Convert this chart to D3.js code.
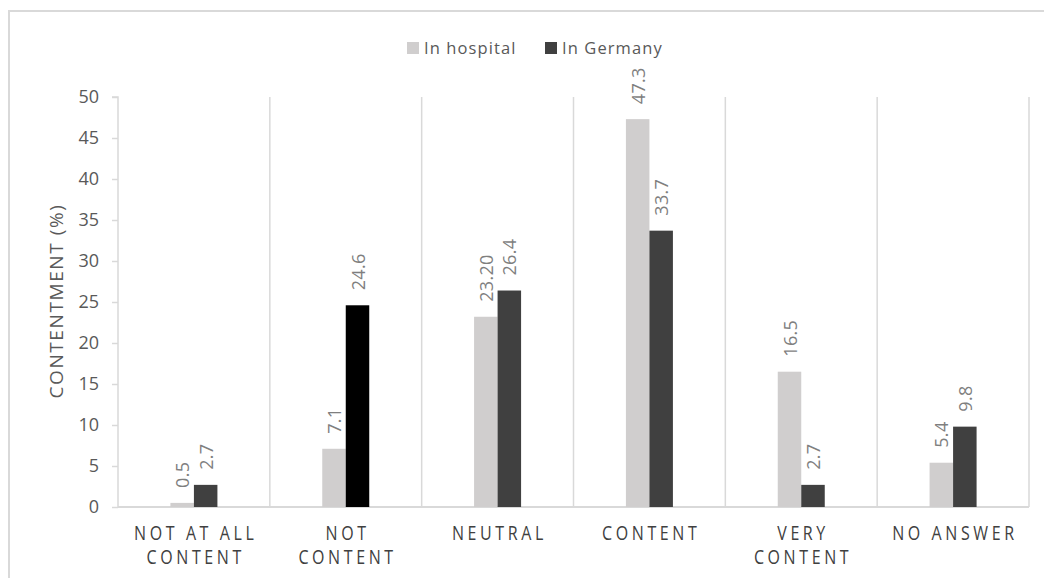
<!DOCTYPE html>
<html>
<head>
<meta charset="utf-8">
<script src="https://cdn.jsdelivr.net/npm/d3@7/dist/d3.min.js"></script>
<style>
  html, body { margin: 0; padding: 0; background: #fff; }
  svg { display: block; }
  text { font-family: "Open Sans", "Noto Sans", sans-serif; }
</style>
</head>
<body>
<svg id="chart" width="1044" height="578"></svg>
<script>
const categories = [["NOT AT ALL", "CONTENT"], ["NOT", "CONTENT"], ["NEUTRAL"], ["CONTENT"], ["VERY", "CONTENT"], ["NO ANSWER"]];
const seriesNames = ["In hospital", "In Germany"];
const hospital = [0.5, 7.1, 23.2, 47.3, 16.5, 5.4];
const germany = [2.7, 24.6, 26.4, 33.7, 2.7, 9.8];
const hospitalLabels = ["0.5", "7.1", "23.20", "47.3", "16.5", "5.4"];
const germanyLabels = ["2.7", "24.6", "26.4", "33.7", "2.7", "9.8"];
const yTicks = [0, 5, 10, 15, 20, 25, 30, 35, 40, 45, 50];

const svg = d3.select("#chart");
const W = 1044, H = 578;
const m = { left: 118, right: 1029, top: 97, bottom: 507 };
const grid = "#d9d9d9";
const colHosp = "#d0cece", colGer = "#404040";

// outer frame
svg.append("rect").attr("x", 9).attr("y", 11).attr("width", W + 20).attr("height", H + 20)
  .attr("fill", "none").attr("stroke", grid).attr("stroke-width", 2);

const idx = categories.map((d, i) => i);
const x0 = d3.scaleBand().domain(idx).range([m.left, m.right]).paddingInner(0).paddingOuter(0);
const x1 = d3.scaleBand().domain([0, 1]).range([x0.bandwidth() / 2 - 23.5, x0.bandwidth() / 2 + 23.5]);
const y = d3.scaleLinear().domain([0, 50]).range([m.bottom, m.top]);

// vertical separators
const seps = idx.map(i => x0(i)).concat([m.right]);
svg.append("g").selectAll("line").data(seps.slice(1)).join("line")
  .attr("x1", d => d).attr("x2", d => d).attr("y1", m.top).attr("y2", m.bottom)
  .attr("stroke", grid).attr("stroke-width", 1.5);

// y axis
const yAxis = d3.axisLeft(y).tickValues(yTicks).tickSize(6).tickPadding(13);
const gy = svg.append("g").attr("transform", `translate(${m.left},0)`).call(yAxis);
gy.select(".domain").attr("stroke", grid).attr("stroke-width", 1.5).attr("d", `M-6,${m.top}H0V${m.bottom}`);
gy.selectAll(".tick line").attr("stroke", grid).attr("stroke-width", 1.5);
gy.selectAll(".tick text").attr("fill", "#595959").style("font-size", "18px")
  .style("font-family", "'Open Sans', sans-serif");

// baseline
svg.append("line").attr("x1", m.left).attr("x2", m.right).attr("y1", m.bottom).attr("y2", m.bottom)
  .attr("stroke", grid).attr("stroke-width", 2);

// bars
const series = [
  { name: seriesNames[0], values: hospital, labels: hospitalLabels, k: 0 },
  { name: seriesNames[1], values: germany, labels: germanyLabels, k: 1 }
];
series.forEach(s => {
  const g = svg.append("g");
  g.selectAll("rect").data(s.values).join("rect")
    .attr("x", (d, i) => x0(i) + x1(s.k))
    .attr("width", x1.bandwidth())
    .attr("y", d => y(d))
    .attr("height", d => y(0) - y(d))
    .attr("fill", (d, i) => s.k === 0 ? colHosp : (i === 1 ? "#000000" : colGer));
  g.selectAll("text").data(s.values).join("text")
    .attr("transform", (d, i) => `translate(${x0(i) + x1(s.k) + x1.bandwidth() / 2},${y(d) - 15}) rotate(-90)`)
    .attr("text-anchor", "start")
    .attr("dominant-baseline", "central")
    .attr("fill", "#7f7f7f")
    .style("font-size", "18px")
    .style("letter-spacing", "0.3px")
    .text((d, i) => s.labels[i]);
});

// x labels
const xl = svg.append("g");
categories.forEach((lines, i) => {
  const cx = x0(i) + x0.bandwidth() / 2 + 1.8;
  const t = xl.append("text")
    .attr("transform", `translate(${cx},540) scale(1,1.22)`)
    .attr("text-anchor", "middle")
    .attr("fill", "#404040")
    .style("font-size", "16px")
    .style("letter-spacing", "3.6px");
  lines.forEach((ln, j) => {
    t.append("tspan").attr("x", 0).attr("dy", j === 0 ? 0 : 24 / 1.22).text(ln);
  });
});

// y title
svg.append("text")
  .attr("transform", `translate(63,${(m.top + m.bottom) / 2 - 1}) rotate(-90)`)
  .attr("text-anchor", "middle")
  .attr("fill", "#595959")
  .style("font-size", "19px")
  .style("letter-spacing", "1.6px")
  .text("CONTENTMENT (%)");

// legend
const legend = [
  { name: seriesNames[0], color: colHosp, x: 407 },
  { name: seriesNames[1], color: colGer, x: 545 }
];
legend.forEach(l => {
  svg.append("rect").attr("x", l.x).attr("y", 42).attr("width", 12).attr("height", 12).attr("fill", l.color);
  svg.append("text").attr("x", l.x + 17).attr("y", 54).attr("fill", "#595959")
    .style("font-size", "16.5px").style("letter-spacing", "1.1px").text(l.name);
});
</script>
</body>
</html>
